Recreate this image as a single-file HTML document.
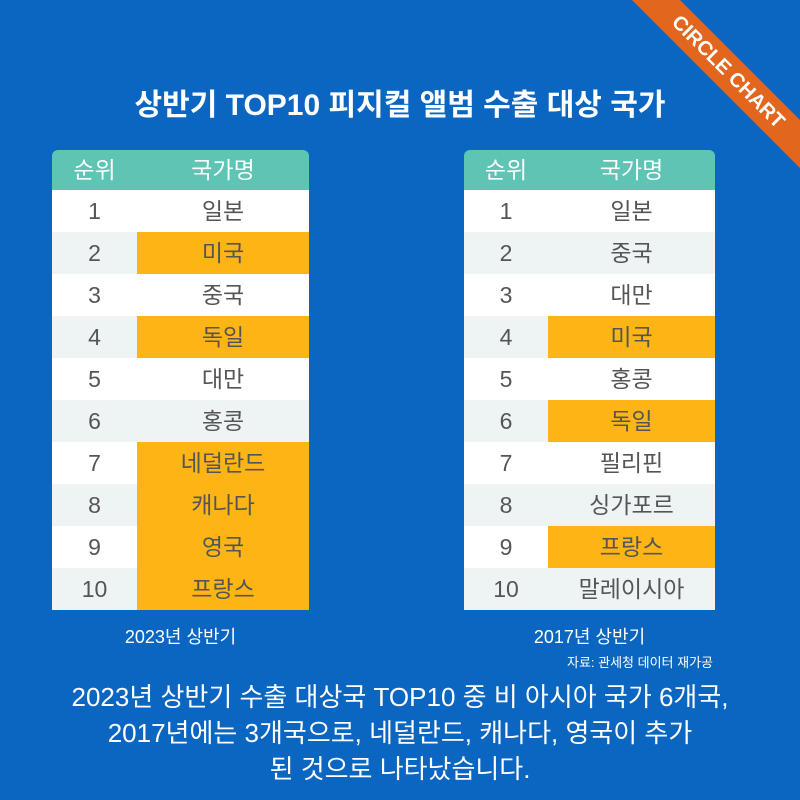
<!DOCTYPE html>
<html><head><meta charset="utf-8"><style>
body{margin:0;width:800px;height:800px;overflow:hidden;background:#0b66c1;font-family:"Liberation Sans","Noto Sans CJK KR",sans-serif;position:relative}
.ban{position:absolute;left:728px;top:72px;width:260px;height:34px;margin-left:-130px;margin-top:-17px;background:#e2661e;transform:rotate(45deg);color:#fff;font-weight:bold;font-size:20px;line-height:34px;text-align:center}
h1{position:absolute;top:80px;left:0;width:800px;margin:0;text-align:center;color:#fff;font-size:30px;font-weight:bold}
table{position:absolute;top:150px;border-collapse:collapse;font-size:23px;color:#555}
td,th{height:42px;padding:0;text-align:center;font-weight:normal;line-height:42px}
th{background:#5ec4b4;color:#fff;height:40px;line-height:40px}
tr.e td{background:#eef3f4}
tr td{background:#fff}
td.o{background:#fdb515!important}
.cap{position:absolute;color:#fff;font-size:18px;text-align:center}
.bot{position:absolute;top:679px;left:0;width:800px;text-align:center;color:#fff;font-size:26px;line-height:36px}
</style></head><body>
<div class="ban">CIRCLE CHART</div>
<h1>상반기 TOP10 피지컬 앨범 수출 대상 국가</h1>
<table style="left:52px;width:257px">
<tr><th style="width:85px;border-top-left-radius:6px">순위</th><th style="border-top-right-radius:6px">국가명</th></tr>
<tr><td>1</td><td>일본</td></tr>
<tr class="e"><td>2</td><td class="o">미국</td></tr>
<tr><td>3</td><td>중국</td></tr>
<tr class="e"><td>4</td><td class="o">독일</td></tr>
<tr><td>5</td><td>대만</td></tr>
<tr class="e"><td>6</td><td>홍콩</td></tr>
<tr><td>7</td><td class="o">네덜란드</td></tr>
<tr class="e"><td>8</td><td class="o">캐나다</td></tr>
<tr><td>9</td><td class="o">영국</td></tr>
<tr class="e"><td>10</td><td class="o">프랑스</td></tr>
</table>
<table style="left:464px;width:251px">
<tr><th style="width:84px;border-top-left-radius:6px">순위</th><th style="border-top-right-radius:6px">국가명</th></tr>
<tr><td>1</td><td>일본</td></tr>
<tr class="e"><td>2</td><td>중국</td></tr>
<tr><td>3</td><td>대만</td></tr>
<tr class="e"><td>4</td><td class="o">미국</td></tr>
<tr><td>5</td><td>홍콩</td></tr>
<tr class="e"><td>6</td><td class="o">독일</td></tr>
<tr><td>7</td><td>필리핀</td></tr>
<tr class="e"><td>8</td><td>싱가포르</td></tr>
<tr><td>9</td><td class="o">프랑스</td></tr>
<tr class="e"><td>10</td><td>말레이시아</td></tr>
</table>
<div class="cap" style="left:52px;width:257px;top:623px">2023년 상반기</div>
<div class="cap" style="left:464px;width:251px;top:623px">2017년 상반기</div>
<div class="cap" style="left:530px;width:220px;top:652px;font-size:13px">자료: 관세청 데이터 재가공</div>
<div class="bot">2023년 상반기 수출 대상국 TOP10 중 비 아시아 국가 6개국,<br>2017년에는 3개국으로, 네덜란드, 캐나다, 영국이 추가<br>된 것으로 나타났습니다.</div>
</body></html>
